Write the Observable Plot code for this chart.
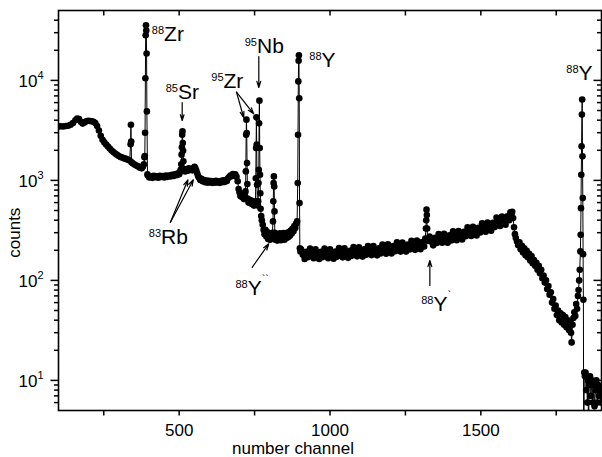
<!DOCTYPE html>
<html><head><meta charset="utf-8">
<script src="https://cdn.jsdelivr.net/npm/d3@7"></script>
<script src="https://cdn.jsdelivr.net/npm/@observablehq/plot@0.6"></script>
<style>body{margin:0;background:#fff}#chart{width:602px;height:457px}</style>
</head><body><div id="chart"></div>
<script>
// spectrum: channel number and counts
const channel = [
100,108,116,124,132,140,148,156,162,168,174,180,186,192,198,204,210,216,222,228,234,240,246,252,258,264,270,276,282,288,294,300,306,312,318,324,330,336,339,340,341,342,346,352,358,364,370,376,380,383,
385,386,387,388,389,390,391,392,393,395,
396,401,406,411,416,421,426,431,436,441,446,451,456,461,466,471,476,481,486,491,496,500,503,505,507,508,509,510,511,512,513,514,516,
520,524,528,532,536,540,544,548,551,554,557,560,563,566,570,574,578,582,586,590,594,598,602,606,610,614,618,622,626,630,634,638,642,646,650,654,658,662,666,670,674,678,682,686,690,694,697,700,703,706,709,712,715,718,
720,721,722,723,724,725,726,727,730,733,736,739,742,745,748,751,753,754,755,756,757,758,759,761,762,763,764,765,766,767,768,769,
770,772,774,777,780,783,786,789,792,795,798,801,804,807,809,811,812,813,814,815,816,817,819,822,825,828,831,834,837,840,843,846,849,852,855,858,861,864,867,870,873,876,879,882,885,888,891,893,894,895,896,897,898,899,900,902,
904,910,916,922,928,934,940,946,952,958,964,970,976,982,988,994,1000,1006,1012,1018,1024,1030,1036,1042,1048,1054,1060,1066,1072,1078,1084,1090,1096,1102,1108,1114,1120,1126,1132,1138,1144,1150,1156,1162,1168,1174,1180,1186,1192,1198,1204,1210,1216,1222,1228,1234,1240,1246,1252,1258,1264,1270,1276,1282,1288,1294,1300,1306,1312,1316,1318,1319,1320,1321,1322,1324,
1330,1336,1342,1348,1354,1360,1366,1372,1378,1384,1390,1396,1402,1408,1414,1420,1426,1432,1438,1444,1450,1456,1462,1468,1474,1480,1486,1492,1498,1504,1510,1516,1522,1528,1534,1540,1546,1552,1558,1564,1570,1576,1582,1588,1594,1598,1602,1604,
1607,1610,1613,1616,1620,1624,1628,1632,1636,1640,1644,1648,1652,1656,1660,1664,1668,1672,1676,1680,1684,1688,1692,1696,1700,1704,1708,1712,1716,1720,1724,1728,1732,1736,1740,1744,1748,1752,1756,1760,1764,1768,1772,1776,1780,1784,1788,1792,1796,1799,1801,1804,1807,1810,1813,1816,1819,1822,1824,
1826,1828,1830,1831,1832,1833,1834,1835,1836,1837,1838,1839,1840,1841,
1843,1845,1847,1849,1851,1853,1855,1857,1859,1862,1865,1868,1871,1874,1877,1880,1883,1886,1889,1892,1895,1898
];
const counts = [
3450,3480,3460,3500,3520,3600,3750,4000,4150,4100,3850,3700,3800,3900,3950,3920,3900,3850,3750,3500,3150,2800,2550,2400,2280,2180,2080,1990,1920,1860,1800,1750,1710,1690,1660,1640,1610,1580,2300,3600,2450,1520,1480,1440,1410,1380,1340,1320,1380,1450,
1700,1750,3000,10500,28200,35500,31600,18600,4900,1150,
1120,1070,1100,1060,1110,1075,1100,1065,1110,1080,1105,1070,1115,1085,1120,1095,1140,1105,1150,1125,1180,1150,1220,1280,1450,1810,2140,2860,3090,2360,1980,1550,1300,
1230,1290,1250,1320,1270,1300,1260,1340,1370,1320,1250,1170,1100,1060,1010,1040,980,1010,960,995,950,990,955,985,945,980,950,990,955,975,945,985,960,1000,965,1010,985,1050,1080,1120,1100,1160,1130,1150,1090,980,820,760,700,730,680,700,650,680,
776,1230,2860,4050,2970,1490,918,660,600,640,590,630,580,610,560,590,617,1050,2110,4270,2280,905,600,560,617,940,1280,3720,6270,2110,1140,745,
520,440,400,360,320,290,320,275,305,260,295,255,290,265,300,389,617,940,1096,870,490,300,255,290,250,285,255,295,252,288,260,298,255,290,265,300,270,305,280,315,295,330,310,350,335,370,389,940,2860,9770,15700,17800,6640,593,210,195,
205,180,164,193,171,208,186,167,205,180,164,193,171,208,186,167,205,181,165,194,173,211,189,170,209,185,168,198,176,215,193,174,214,190,173,205,181,221,198,179,220,195,178,210,186,228,204,185,229,204,186,220,196,240,215,194,239,213,194,228,204,249,223,202,251,225,205,242,218,262,330,400,510,450,330,248,
275,244,224,267,237,291,262,238,292,260,238,283,251,309,278,252,312,280,256,307,276,339,305,278,344,307,281,336,301,372,338,307,379,341,314,376,341,425,385,350,436,395,361,437,400,480,470,485,
420,340,290,265,245,225,240,205,222,190,210,178,198,170,185,158,175,148,160,140,150,128,140,118,128,105,112,95,100,82,88,72,76,60,65,52,56,45,50,40,47,38,45,36,43,34,40,32,38,30,24,36,42,48,44,58,52,70,80,
100,128,195,286,528,1140,2190,4550,6430,1740,665,183,64,2,
12,11,12,8,11,6,10,3,9,11,7,10,6,9,5.5,8,10,6,9,7,8,6
];

// axes
const xMajor = [500, 1000, 1500];
const xMinor = [250, 750, 1250, 1750];
const yMajor = [10, 100, 1000, 10000];
const yExponent = ["1", "2", "3", "4"];
const yMinor = [6,7,8,9,20,30,40,50,60,70,80,90,200,300,400,500,600,700,800,900,2000,3000,4000,5000,6000,7000,8000,9000,20000,30000,40000];

// peak labels
const isoMass = ["88","85","95","95","88","88","83","88","88"];
const isoSymbol = ["Zr","Sr","Zr","Nb","Y","Y","Rb","Y","Y"];
const isoSuffix = ["","","","","","","","``","`"];
const isoChannel = [450, 496, 647, 758, 972, 1824, 440, 727, 1343];
const isoCounts = [24500, 6590, 8300, 19000, 13770, 9980, 229, 72, 50];

// arrows
const arrowFromChannel = [510, 764, 690, 690, 471, 471, 742, 1331];
const arrowFromCounts = [6010, 17340, 7620, 7620, 382, 382, 135, 89];
const arrowToChannel = [510, 764, 714, 747, 529, 547, 797, 1331];
const arrowToCounts = [3970, 8490, 4230, 4630, 1014, 1014, 232, 158];

const data = channel.map((c, i) => ({channel: c, counts: counts[i]}));
const labels = isoMass.map((m, i) => ({mass: m, sym: isoSymbol[i], suf: isoSuffix[i], x: isoChannel[i], y: isoCounts[i]}));
const arrows = arrowFromChannel.map((c, i) => ({x1: c, y1: arrowFromCounts[i], x2: arrowToChannel[i], y2: arrowToCounts[i]}));

const W = 602, H = 457, mL = 58, mR = 1, mT = 10, mB = 47;
const xDomain = [100, 1900], yDomain = [5, 50000];
// mirror of the plot's scales, used only to express tick lengths in data units
const xs = d3.scaleLinear(xDomain, [mL, W - mR]);
const ys = d3.scaleLog(yDomain, [H - mB, mT]);
const xTicks = [...xMinor, ...xMajor];
const tk = {stroke: "black", strokeWidth: 1.5};
const tickLinks = [
  ...xTicks.map(v => ({x1: v, x2: v, y1: yDomain[0], y2: ys.invert(H - mB + 5)})),
  ...xTicks.map(v => ({x1: v, x2: v, y1: yDomain[1], y2: ys.invert(mT + 5)})),
  ...yMajor.map(v => ({x1: xDomain[0], x2: xs.invert(mL - 8), y1: v, y2: v})),
  ...yMinor.map(v => ({x1: xDomain[0], x2: xs.invert(mL - 4.5), y1: v, y2: v})),
  ...yMajor.map(v => ({x1: xDomain[1], x2: xs.invert(W - mR - 8), y1: v, y2: v})),
  ...yMinor.map(v => ({x1: xDomain[1], x2: xs.invert(W - mR - 4.5), y1: v, y2: v}))
];

const font = "'Liberation Sans', Arial, sans-serif";
const chart = Plot.plot({
  width: W, height: H,
  marginLeft: mL, marginRight: mR, marginTop: mT, marginBottom: mB,
  style: {fontFamily: font, background: "white", color: "black"},
  x: {domain: xDomain, label: null, axis: null},
  y: {type: "log", domain: yDomain, label: null, axis: null},
  marks: [
    Plot.line(data, {x: "channel", y: "counts", stroke: "black", strokeWidth: 1, clip: true}),
    Plot.dot(data, {x: "channel", y: "counts", r: 3.3, fill: "black", stroke: null, clip: true}),
    Plot.link(tickLinks, {x1: "x1", y1: "y1", x2: "x2", y2: "y2", ...tk}),
    Plot.frame({stroke: "black", strokeWidth: 1.6}),
    // tick labels
    Plot.text(xMajor, {x: d => d, frameAnchor: "bottom", text: d => String(d), lineAnchor: "top", textAnchor: "middle", dy: 13, fontSize: 17}),
    Plot.text(yMajor, {y: d => d, frameAnchor: "left", text: () => "10", textAnchor: "end", dx: -21, dy: 1, fontSize: 17}),
    Plot.text(yMajor, {y: d => d, frameAnchor: "left", text: (d, i) => yExponent[i], textAnchor: "start", dx: -21, dy: -5, fontSize: 11}),
    // axis titles
    Plot.text(["number channel"], {frameAnchor: "bottom", dx: -37, dy: 43, lineAnchor: "bottom", textAnchor: "middle", fontSize: 17}),
    Plot.text(["counts"], {y: () => 300, frameAnchor: "left", rotate: -90, dx: -44, textAnchor: "middle", lineAnchor: "middle", fontSize: 17}),
    // annotations
    Plot.arrow(arrows, {x1: "x1", y1: "y1", x2: "x2", y2: "y2", stroke: "black", strokeWidth: 1.2, headLength: 8, headAngle: 35}),
    Plot.text(labels, {x: "x", y: "y", text: "mass", textAnchor: "end", lineAnchor: "bottom", dy: -7, fontSize: 11, fill: "black"}),
    Plot.text(labels, {x: "x", y: "y", text: "sym", textAnchor: "start", lineAnchor: "bottom", fontSize: 21, fill: "black"}),
    Plot.text(labels, {x: "x", y: "y", text: "suf", textAnchor: "start", lineAnchor: "bottom", dx: 14, dy: -12, fontSize: 11, fill: "black"})
  ]
});
document.getElementById("chart").appendChild(chart);
</script>
</body></html>
